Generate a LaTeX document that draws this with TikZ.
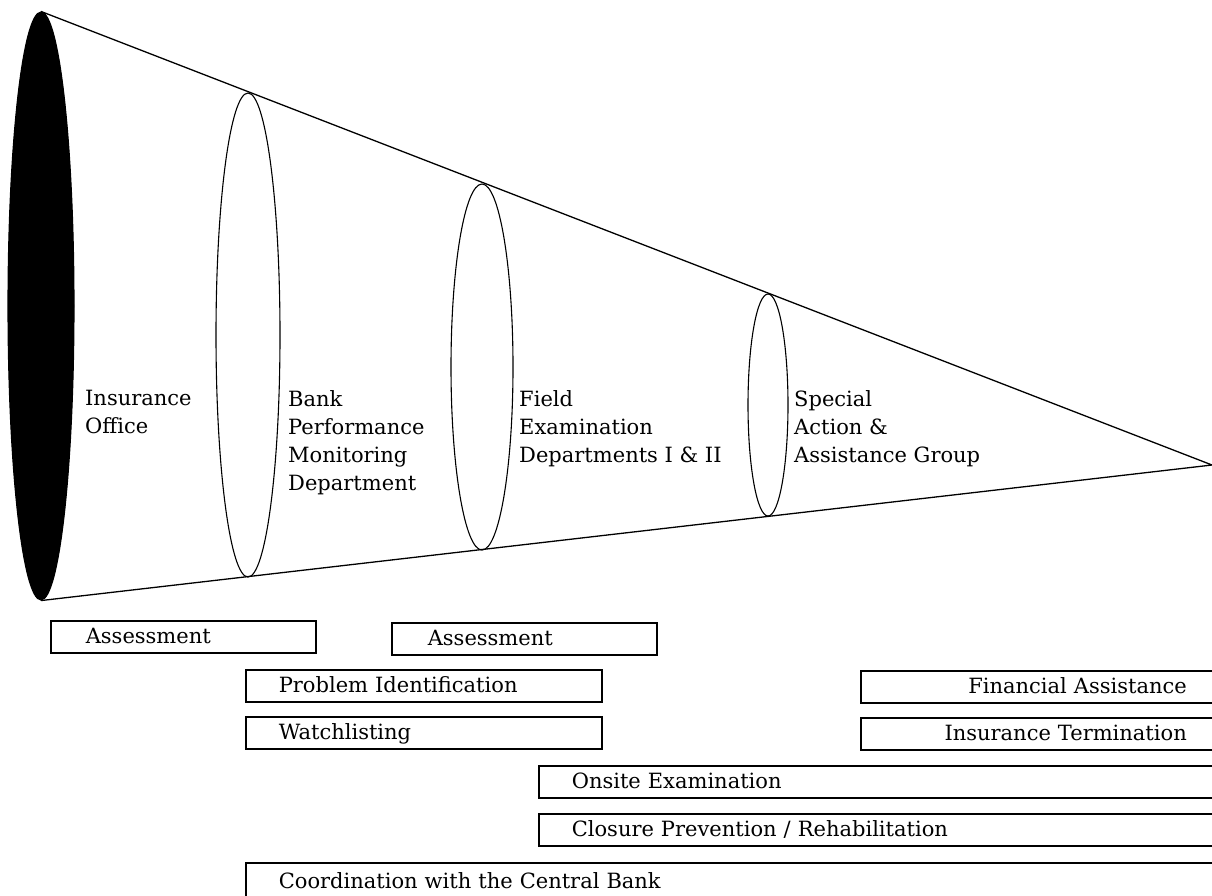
\documentclass[tikz,border=0pt]{standalone}
\usepackage{fontspec}
\setmainfont{DejaVu Serif}
\usetikzlibrary{shapes.geometric}
\begin{document}
\begin{tikzpicture}[x=1pt,y=-1pt,
  font=\fontsize{21}{28}\selectfont,
  ring/.style={ellipse,draw,line width=1.1pt,inner sep=0pt},
  cone/.style={line width=1.3pt},
  label/.style={anchor=north west,align=left,inner sep=0pt},
  box/.style={draw,line width=1.6pt,anchor=north west,minimum height=32pt,
    text height=17pt,text depth=4pt,inner ysep=0pt},
  lbox/.style={box,align=left,inner xsep=33pt},
  rbox/.style={box,align=right,inner xsep=30pt}]
\useasboundingbox (0,0) rectangle (1212,895);
\clip (0,0) rectangle (1212,895);
% cone
\coordinate (apex) at (1212,465);
\node[ring,fill=black,minimum width=66pt,minimum height=588pt] (e1) at (41,306) {};
\node[ring,minimum width=64pt,minimum height=484pt] (e2) at (248,335) {};
\node[ring,minimum width=62pt,minimum height=366pt] (e3) at (482,367) {};
\node[ring,minimum width=40pt,minimum height=222pt] (e4) at (768,405) {};
\draw[cone] (e1.north) -- (apex) -- (e1.south);
% column labels
\node[label] (t1) at (85,390) {Insurance\\Office};
\node[label] (t2) at (288,390) {Bank\\Performance\\Monitoring\\Department};
\node[label] (t3) at (519,390) {Field\\Examination\\Departments I \& II};
\node[label] (t4) at (794,390) {Special\\Action \&\\Assistance Group};
% activity boxes
\node[lbox,inner xsep=35pt,text width=195pt] (b1) at (50,620) {Assessment};
\node[lbox,inner xsep=36pt,text width=193pt] (b2) at (391,622) {Assessment};
\node[lbox,text width=290pt] (b3) at (245,669) {Problem Identification};
\node[lbox,text width=290pt] (b4) at (245,716) {Watchlisting};
\node[rbox,text width=296pt] (b5) at (860,670) {Financial Assistance};
\node[rbox,text width=296pt] (b6) at (860,717) {Insurance Termination};
\node[lbox,text width=614pt] (b7) at (538,765) {Onsite Examination};
\node[lbox,text width=614pt] (b8) at (538,813) {Closure Prevention / Rehabilitation};
\node[lbox,text width=905pt,minimum height=38pt] (b9) at (245,862) {Coordination with the Central Bank};
\end{tikzpicture}
\end{document}
